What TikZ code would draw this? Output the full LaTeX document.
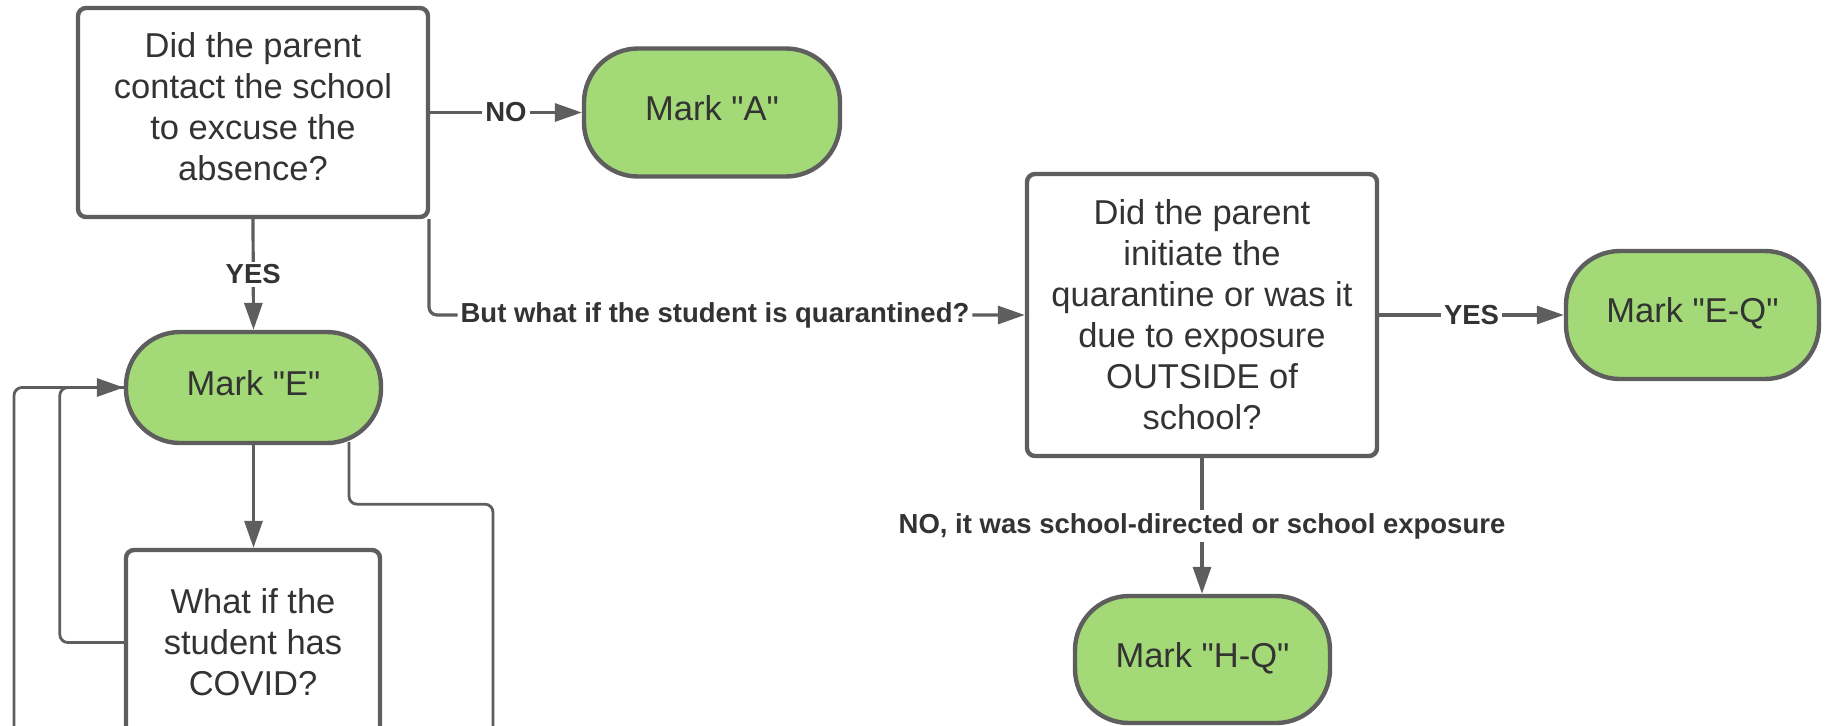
\documentclass[tikz,border=0pt]{standalone}
\usepackage{fontspec}
\setmainfont{Liberation Sans}[Ligatures=TeXOff]
\usetikzlibrary{arrows.meta}
\definecolor{edge}{HTML}{5E5E5E}
\definecolor{ink}{HTML}{333333}
\definecolor{termgreen}{HTML}{A3D977}
\begin{document}
\begin{tikzpicture}[x=0.5pt,y=-0.5pt,
  qbox/.style={draw=edge, line width=2.2pt, fill=white, rounded corners=4pt, inner sep=0pt,
    align=center, text=ink, font=\fontsize{17.25}{20.5}\selectfont},
  term/.style={draw=edge, line width=2.2pt, fill=termgreen, rounded corners=27pt, inner sep=0pt,
    text=ink, font=\fontsize{17.25}{20.5}\selectfont, text height=12.6pt, text depth=4.8pt},
  conn/.style={draw=edge, line width=1.6pt, -{Triangle[length=13.5pt,width=9pt]}},
  wire/.style={draw=edge, line width=1.4pt, rounded corners=4pt},
  lbl/.style={fill=white, text=ink, inner sep=1.5pt, font=\fontsize{13.75}{16}\selectfont\bfseries}]
\useasboundingbox (0,0) rectangle (1826,725);
\clip (0,0) rectangle (1826,725);

% nodes
\node[qbox, minimum width=175pt, minimum height=104.5pt] (q1) at (253,112.5)
  {Did the parent\\contact the school\\to excuse the\\absence?\rule[-6.3pt]{0pt}{6.3pt}};
\node[term, minimum width=128pt, minimum height=64pt] (ma) at (712,112.5) {Mark "A"};
\node[term, minimum width=127.5pt, minimum height=55.5pt] (me) at (253.5,387.5) {Mark "E"};
\node[qbox, minimum width=127pt, minimum height=92.5pt] (q3) at (253,642.5)
  {What if the\\student has\\COVID?};
\node[qbox, minimum width=175pt, minimum height=141pt] (q2) at (1202,315)
  {Did the parent\\initiate the\\quarantine or was it\\due to exposure\\OUTSIDE of\\school?};
\node[term, minimum width=126.5pt, minimum height=64pt] (meq) at (1692.5,315) {Mark "E-Q"};
\node[term, minimum width=127.5pt, minimum height=63.5pt] (mhq) at (1202.5,659.5) {Mark "H-Q"};

\coordinate (outerEnd) at (14,760);
\coordinate (rightEnd) at (493,760);

% connectors
\draw[conn] (q1.east) -- node[lbl] {NO} (q1.east -| ma.west);
\draw[conn] (q1.south) -- node[lbl] {YES} (me.north);
\draw[conn, rounded corners=4pt] ([xshift=-0.6pt]q1.south east) |-
  node[lbl, pos=0.74] {But what if the student is quarantined?} (q2.west);
\draw[conn] (q2.east) -- node[lbl] {YES} (q2.east -| meq.west);
\draw[conn] (q2.south) -- node[lbl] {NO, it was school-directed or school exposure} (q2.south |- mhq.north);
\draw[conn] (me.south) -- (me.south |- q3.north);

% loops back to Mark "E"
\draw[wire] (q3.west) -- ++(-64,0) |- (me.west);
\draw[wire] (outerEnd) |- (me.west);
\draw[draw=edge, line width=1.6pt, -{Triangle[length=13.5pt,width=9pt]}] ([xshift=-20pt]me.west) -- (me.west);
\draw[wire] ([xshift=47.75pt,yshift=1.5pt]me.south) -- ++(0,62) -| (rightEnd);
\end{tikzpicture}
\end{document}
